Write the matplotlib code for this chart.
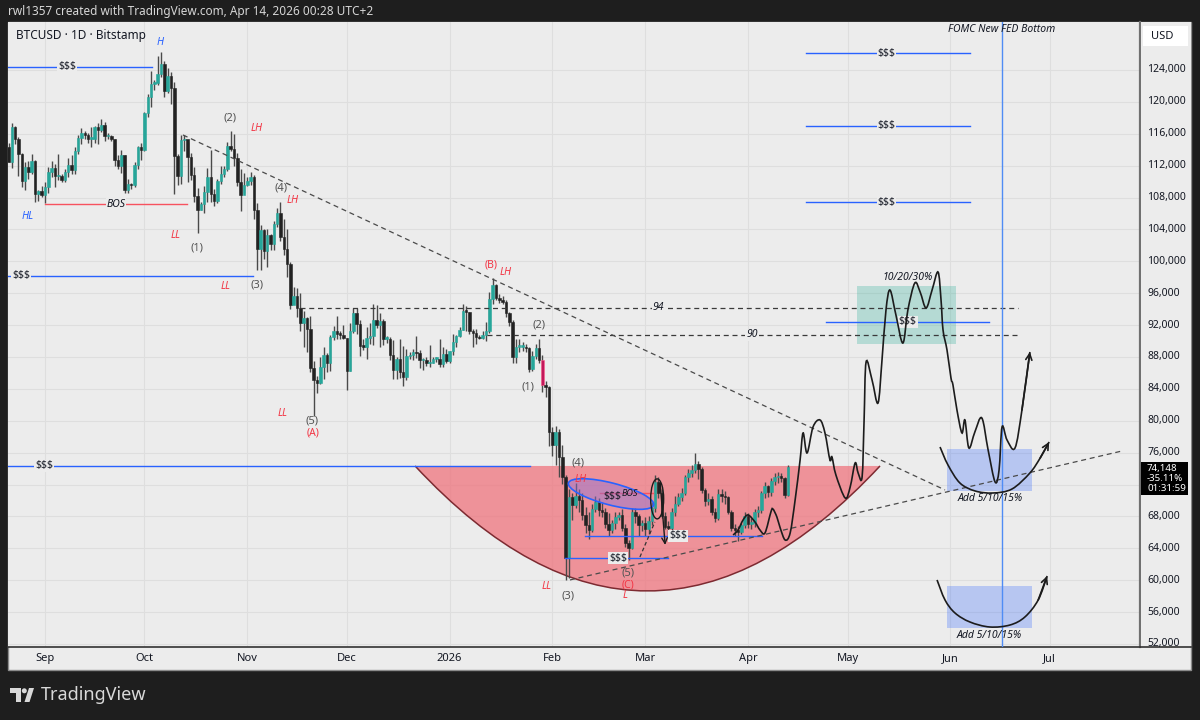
import numpy as np
import pandas as pd
import matplotlib
matplotlib.use("Agg")
import matplotlib.pyplot as plt
from matplotlib.path import Path
from matplotlib.patches import PathPatch, Rectangle, Ellipse, Polygon
from matplotlib.transforms import blended_transform_factory, IdentityTransform

plt.rcParams["font.family"] = ["Noto Sans", "DejaVu Sans"]

# ---- daily BTCUSD candles (Bitstamp), prices in thousands of USD ----
first_day = "2025-08-21"
opens = [
    114.3, 112.5, 116.9, 115.4, 113.5, 110.1, 111.8, 111.2, 112.6, 108.4, 108.8,
    108.3, 109.3, 111.2, 111.7, 110.7, 110.7, 110.2, 111.2, 112.1, 111.5, 113.9, 115.5, 116.1, 115.9, 115.4,
    115.4, 116.8, 116.5, 117.1, 115.7, 115.7, 115.3, 112.7, 112.0, 113.3, 109.0, 109.7, 109.6, 112.1, 114.4,
    114.0, 118.6, 120.6, 122.3, 122.4, 123.5, 124.8, 121.4, 123.3, 121.7, 113.2, 110.7, 115.2, 115.3, 113.1,
    110.8, 108.2, 106.5, 107.2, 108.7, 110.6, 108.5, 107.6, 110.1, 111.0, 111.6, 114.5, 114.1, 112.9, 110.0, 108.3,
    109.6, 110.1, 110.6, 106.5, 101.5, 103.9, 101.3, 103.3, 102.2, 104.7, 106.0, 103.0, 101.6, 99.7, 94.5,
    95.6, 94.2, 92.2, 92.9, 91.5, 86.6, 85.1, 84.7, 86.8, 88.3, 87.3, 90.5, 91.3, 90.9, 90.8,
    90.4, 86.3, 91.3, 93.5, 92.1, 89.4, 89.3, 90.4, 90.6, 92.7, 92.0, 92.5, 90.3, 90.3, 88.2, 86.4,
    87.8, 86.1, 85.5, 88.1, 88.3, 88.6, 88.5, 87.6, 87.6, 87.2, 87.3, 87.8, 87.8, 87.1, 88.4,
    87.5, 88.7, 89.9, 90.6, 91.4, 93.8, 93.7, 91.3, 91.0, 90.5, 90.4, 90.8, 91.2, 95.3, 97.0, 95.4,
    95.2, 94.9, 93.5, 92.4, 88.0, 89.3, 89.3, 89.3, 89.1, 86.5, 88.1, 89.1, 87.6, 84.5, 84.2,
    78.6, 77.0, 78.6, 75.5, 73.0, 62.8, 70.4, 69.4, 70.6, 70.0, 68.2, 66.9, 66.3, 68.9,
    69.8, 68.8, 68.6, 67.0, 66.3, 67.2, 67.9, 68.2, 66.5, 64.7, 64.0, 68.6, 68.0, 66.9,
    67.2, 66.4, 67.4, 69.0, 72.3, 71.0, 68.1, 66.7, 66.6, 68.5, 69.6, 70.4, 71.0, 72.9, 73.5, 73.8,
    74.6, 73.9, 71.3, 69.9, 70.2, 68.6, 67.8, 70.8, 70.6, 70.4, 68.6, 66.5, 66.3, 66.0, 66.9,
    68.0, 67.1, 67.2, 68.6, 68.8, 70.9, 71.8, 71.1, 72.4, 72.9, 73.1, 72.8, 70.7,
]
highs = [
    114.8, 117.4, 117.0, 115.6, 113.6, 112.4, 112.6, 113.5, 112.7, 108.9, 109.4,
    109.9, 111.8, 112.6, 112.2, 113.4, 111.0, 111.6, 112.9, 113.3, 114.3, 115.9, 116.7, 116.3, 116.1, 116.8,
    117.0, 117.3, 117.9, 117.5, 116.1, 115.8, 115.4, 113.3, 114.0, 113.3, 110.3, 109.8, 112.4, 114.5, 114.8,
    118.7, 121.0, 123.9, 122.8, 125.7, 126.2, 125.1, 124.2, 123.7, 122.5, 113.4, 115.9, 115.9, 115.0, 113.6,
    111.8, 109.2, 107.5, 109.4, 111.7, 114.0, 109.1, 110.3, 112.0, 111.9, 115.0, 116.4, 116.0, 113.6, 111.6, 111.1,
    110.6, 111.2, 110.8, 107.3, 104.5, 104.0, 104.0, 103.4, 105.0, 106.7, 107.4, 105.3, 104.1, 99.9, 96.8,
    96.6, 96.0, 93.8, 93.0, 93.2, 87.5, 85.6, 88.0, 89.2, 88.5, 90.7, 91.9, 93.1, 91.2, 92.0,
    90.4, 92.3, 94.1, 94.1, 92.7, 90.3, 91.8, 92.3, 94.6, 94.5, 93.5, 92.8, 90.6, 90.5, 90.1, 88.0,
    90.3, 89.4, 89.0, 88.6, 89.0, 90.6, 88.9, 87.9, 88.0, 89.5, 88.0, 88.0, 90.3, 89.3, 89.0,
    88.8, 90.9, 90.7, 91.8, 94.7, 94.4, 93.6, 91.5, 91.5, 90.7, 91.2, 92.4, 96.2, 97.9, 97.1, 95.9,
    95.6, 95.2, 93.6, 92.6, 90.2, 90.3, 89.9, 89.6, 89.3, 88.8, 89.6, 90.3, 88.2, 85.0, 84.3,
    79.2, 79.3, 79.0, 76.9, 73.2, 71.5, 71.0, 72.2, 71.5, 70.9, 69.2, 68.5, 69.5, 70.6,
    70.3, 69.8, 69.0, 68.4, 67.6, 68.5, 68.6, 68.9, 67.0, 65.0, 69.1, 69.0, 68.3, 67.6,
    67.9, 68.0, 69.8, 73.2, 73.0, 71.4, 68.5, 67.4, 69.0, 70.5, 71.0, 71.6, 73.2, 74.0, 74.4, 75.9,
    75.0, 74.2, 71.6, 70.9, 70.5, 69.0, 71.5, 71.4, 71.2, 70.6, 68.8, 67.0, 66.8, 67.2, 68.5,
    68.4, 67.8, 68.9, 69.3, 71.2, 72.3, 72.0, 72.8, 73.5, 73.6, 73.4, 72.9, 74.5,
]
lows = [
    112.4, 111.7, 114.7, 110.7, 109.3, 109.0, 110.3, 110.9, 107.4, 107.6, 108.1,
    107.3, 108.6, 110.6, 109.3, 110.2, 109.9, 110.0, 110.6, 110.9, 110.9, 113.4, 114.7, 115.4, 114.8, 114.4,
    114.8, 114.7, 116.2, 115.1, 115.4, 115.1, 112.0, 111.6, 111.1, 108.6, 108.6, 109.1, 109.3, 111.6, 112.7,
    113.9, 118.1, 119.3, 121.5, 122.1, 123.1, 120.6, 121.1, 119.7, 108.5, 109.6, 109.7, 113.9, 110.0, 110.2,
    107.5, 103.5, 106.4, 106.1, 107.5, 107.5, 106.9, 107.3, 109.7, 110.6, 111.3, 113.9, 112.0, 109.5, 106.3, 108.6,
    109.4, 109.6, 105.3, 98.9, 98.9, 100.3, 99.3, 101.4, 101.4, 104.3, 102.5, 100.8, 98.0, 94.0, 94.6,
    93.0, 91.2, 89.3, 88.6, 86.1, 80.6, 83.5, 84.6, 85.3, 86.1, 86.3, 90.1, 90.2, 90.3, 90.3,
    83.9, 86.2, 91.0, 90.9, 88.1, 88.9, 87.7, 89.6, 89.5, 91.6, 89.3, 89.5, 89.8, 87.6, 85.2, 85.3,
    85.4, 84.4, 85.1, 87.8, 87.6, 87.9, 86.6, 86.4, 86.9, 86.7, 87.2, 87.4, 86.7, 86.8, 87.2,
    87.3, 88.3, 89.3, 90.5, 91.4, 91.3, 90.9, 89.3, 89.6, 90.2, 90.2, 90.0, 91.0, 94.6, 95.1, 94.8,
    94.6, 93.0, 91.9, 87.3, 87.3, 88.6, 88.7, 88.6, 86.1, 86.2, 87.7, 87.3, 83.6, 83.0, 76.8,
    75.6, 74.5, 72.9, 72.1, 60.0, 60.3, 67.5, 69.0, 68.5, 67.6, 65.9, 65.2, 66.0, 68.5,
    68.0, 67.9, 66.6, 65.6, 65.9, 66.4, 67.6, 66.2, 64.2, 62.5, 63.9, 67.2, 65.5, 66.2,
    65.6, 65.8, 66.9, 68.5, 70.3, 67.8, 66.4, 65.4, 66.2, 68.1, 69.3, 69.9, 70.7, 72.3, 72.9, 73.4,
    72.7, 71.0, 69.3, 69.4, 68.2, 67.3, 67.5, 69.8, 69.6, 68.3, 66.2, 65.6, 64.9, 65.8, 66.6,
    66.6, 66.4, 66.7, 67.9, 68.4, 70.3, 70.4, 70.6, 72.0, 72.2, 72.3, 70.3, 70.5,
]
closes = [
    112.5, 116.9, 115.4, 113.5, 110.1, 111.8, 111.2, 112.6, 108.4, 108.8, 108.3,
    109.3, 111.2, 111.7, 110.7, 110.7, 110.2, 111.2, 112.1, 111.5, 113.9, 115.5, 116.1, 115.9, 115.4, 115.4,
    116.8, 116.5, 117.1, 115.7, 115.7, 115.3, 112.7, 112.0, 113.3, 109.0, 109.7, 109.6, 112.1, 114.4, 114.0,
    118.6, 120.6, 122.3, 122.4, 123.5, 124.8, 121.4, 123.3, 121.7, 113.2, 110.7, 115.2, 115.3, 113.1, 110.8,
    108.2, 106.5, 107.2, 108.7, 110.6, 108.5, 107.6, 110.1, 111.0, 111.6, 114.5, 114.1, 112.9, 110.0, 108.3, 109.6,
    110.1, 110.6, 106.5, 101.5, 103.9, 101.3, 103.3, 102.2, 104.7, 106.0, 103.0, 101.6, 99.7, 94.5, 95.6,
    94.2, 92.2, 92.9, 91.5, 86.6, 85.1, 84.7, 86.8, 88.3, 87.3, 90.5, 91.3, 90.9, 90.8, 90.4,
    86.3, 91.3, 93.5, 92.1, 89.4, 89.3, 90.4, 90.6, 92.7, 92.0, 92.5, 90.3, 90.3, 88.2, 86.4, 87.8,
    86.1, 85.5, 88.1, 88.3, 88.6, 88.5, 87.6, 87.6, 87.2, 87.3, 87.8, 87.8, 87.1, 88.4, 87.5,
    88.7, 89.9, 90.6, 91.4, 93.8, 93.7, 91.3, 91.0, 90.5, 90.4, 90.8, 91.2, 95.3, 97.0, 95.4, 95.2,
    94.9, 93.5, 92.4, 88.0, 89.3, 89.3, 89.3, 89.1, 86.5, 88.1, 89.1, 87.6, 84.5, 84.2, 78.6,
    77.0, 78.6, 75.5, 73.0, 62.8, 70.4, 69.4, 70.6, 70.0, 68.2, 66.9, 66.3, 68.9, 69.8,
    68.8, 68.6, 67.0, 66.3, 67.2, 67.9, 68.2, 66.5, 64.7, 64.0, 68.6, 68.0, 66.9, 67.2,
    66.4, 67.4, 69.0, 72.3, 71.0, 68.1, 66.7, 66.6, 68.5, 69.6, 70.4, 71.0, 72.9, 73.5, 73.8, 74.6,
    73.9, 71.3, 69.9, 70.2, 68.6, 67.8, 70.8, 70.6, 70.4, 68.6, 66.5, 66.3, 66.0, 66.9, 68.0,
    67.1, 67.2, 68.6, 68.8, 70.9, 71.8, 71.1, 72.4, 72.9, 73.1, 72.8, 70.7, 74.148,
]
marked_day = "2026-01-29"

# ---- axes ----
origin = pd.Timestamp("2025-09-01")
month_ticks = ["2025-09-01", "2025-10-01", "2025-11-01", "2025-12-01", "2026-01-01", "2026-02-01",
               "2026-03-01", "2026-04-01", "2026-05-01", "2026-06-01", "2026-07-01"]
month_labels = ["Sep", "Oct", "Nov", "Dec", "2026", "Feb", "Mar", "Apr", "May", "Jun", "Jul"]
price_ticks = list(range(52, 125, 4))
last_price = 74.148
last_change = "-35.11%"
countdown = "01:31:59"

# ---- drawings (x = days since 2025-09-01, y = price in thousands) ----
liq_price = [124.38, 98.16, 74.33, 62.78, 65.55, 92.39, 126.13, 116.98, 107.44]
liq_start = [-11.2, -11.2, -11.2, 156.8, 162.8, 235.5, 229.5, 229.5, 229.5]
liq_end = [32.3, 62.7, 146.3, 187.9, 216.2, 284.7, 279.0, 279.0, 279.0]
liq_label = [6.6, -7.2, -0.3, 172.8, 190.9, 260.2, 253.8, 253.8, 253.8]

level_text = ["94", "90"]
level_price = [94.15, 90.76]
level_start = [76.9, 133.3]
level_end = [293.4, 294.0]
level_label = [184.9, 213.2]

trend_days = [(41.6, 271.4), (158.3, 324.8)]
trend_prices = [(115.85, 71.32), (60.03, 76.21)]

count_text = ["(1)", "(2)", "(3)", "(4)", "(5)", "(1)", "(2)", "(3)", "(4)", "(5)"]
count_day = [45.8, 55.8, 63.9, 71.2, 80.5, 145.7, 149.0, 157.7, 160.7, 175.8]
count_price = [101.67, 117.98, 97.03, 109.20, 79.97, 84.24, 92.01, 58.02, 74.70, 60.85]

swing_text = ["LL", "LH", "LH", "LL", "LL", "LH", "LH", "LL", "L"]
swing_day = [39.5, 63.9, 74.8, 54.6, 71.5, 139.0, 161.6, 151.4, 174.9]
swing_price = [103.18, 116.60, 107.69, 96.78, 80.97, 98.54, 72.57, 59.27, 58.10]

abc_text = ["(A)", "(B)", "(C)"]
abc_day = [80.8, 134.5, 175.8]
abc_price = [78.47, 99.54, 59.45]

blue_text = ["H", "HL"]
blue_day = [34.7, -5.1]
blue_price = [127.39, 105.56]

bos_price = 107.18
bos_span = (0.0, 42.8)
bos_label = 21.4

cup_days = (111.6, 251.8)
cup_top = 74.33
cup_bottom = 58.65

zone_days = [(244.9, 274.7), (272.0, 297.6), (272.0, 297.6)]
zone_prices = [(89.63, 96.90), (71.19, 76.46), (54.00, 59.27)]
zone_colors = ["#22ab94", "#2962ff", "#2962ff"]
zone_text = ["10/20/30%", "Add 5/10/15%", "Add 5/10/15%"]
zone_text_pos = [(260.0, 98.03), (285.0, 70.31), (284.7, 53.00)]

fomc_day = 288.6

path_days = [207.5, 209.0, 210.5, 212.0, 214.1, 215.6, 217.1, 218.9, 219.5, 220.7, 221.7, 223.2, 224.7,
             226.2, 227.7, 228.6, 229.8, 231.6, 233.7, 235.2, 236.7, 237.3, 238.5, 241.3, 242.8, 244.3,
             245.2, 246.4, 247.0, 247.6, 249.4, 251.2, 252.4, 253.6, 254.8, 256.6, 258.7, 260.2, 262.3,
             263.9, 265.7, 267.5, 269.3, 270.2, 270.8, 272.0, 273.2, 273.8, 275.0, 276.5, 277.4, 278.6,
             280.4, 282.5, 284.4, 286.5, 287.7, 288.6, 290.1, 292.5, 294.6, 297.0]
path_prices = [65.67, 66.30, 67.55, 68.18, 67.30, 66.30, 65.92, 68.56, 68.93, 67.93, 66.55, 65.04, 65.92,
               70.06, 75.08, 78.47, 75.96, 79.22, 80.10, 78.47, 75.08, 75.46, 73.20, 70.31, 71.69, 74.70,
               73.45, 72.95, 80.10, 87.37, 85.11, 82.23, 87.62, 93.89, 96.40, 93.27, 89.75, 93.89, 97.28,
               96.15, 94.15, 96.40, 98.66, 95.15, 91.39, 88.88, 85.36, 84.49, 81.35, 78.47, 80.10, 76.58,
               78.59, 80.35, 76.33, 72.32, 73.82, 79.22, 77.59, 76.58, 81.35, 88.63]

arc1_days = [269.9, 272.3, 275.9, 280.5, 285.9, 291.6, 297.0, 300.1, 302.8]
arc1_prices = [76.71, 74.45, 72.19, 71.19, 70.94, 71.44, 73.45, 75.33, 77.34]
arc2_days = [269.0, 271.4, 274.4, 278.9, 284.9, 291.0, 295.5, 299.5, 302.2]
arc2_prices = [60.03, 57.52, 55.89, 54.76, 54.13, 54.38, 55.39, 57.52, 60.53]

BG = "#ececec"
DARK = "#1e1e1e"
RED = "#f23645"
BLUE = "#2962ff"
INK = "#131722"


def smooth_path(xs, ys):
    # catmull-rom through the points, drawn as cubic bezier segments
    pts = np.column_stack([xs, ys]).astype(float)
    verts = [pts[0]]
    codes = [Path.MOVETO]
    for i in range(len(pts) - 1):
        p0 = pts[i - 1] if i > 0 else pts[i]
        p1, p2 = pts[i], pts[i + 1]
        p3 = pts[i + 2] if i + 2 < len(pts) else pts[i + 1]
        verts += [p1 + (p2 - p0) / 6, p2 - (p3 - p1) / 6, p2]
        codes += [Path.CURVE4] * 3
    return Path(verts, codes)


def arrow_tip(ax, xs, ys):
    ax.annotate("", xy=(xs[-1], ys[-1]), xytext=(xs[-2], ys[-2]),
                arrowprops=dict(arrowstyle="->", color="#1c1c1c", lw=1.2,
                                shrinkA=0, shrinkB=0, mutation_scale=11), zorder=7)


fig = plt.figure(figsize=(12, 7.2), dpi=100, facecolor=DARK)
fig.patches.append(Rectangle((8 / 1200, 50 / 720), 1183 / 1200, 648 / 720, transform=fig.transFigure,
                             facecolor=BG, edgecolor="#8c8c8c", lw=1, zorder=-5))

ax = fig.add_axes([8 / 1200, 73 / 720, 1132 / 1200, 625 / 720], facecolor=BG)
ax.set_xlim(-11.16, 330.2)
ax.set_ylim(51.62, 130.02)

tick_days = [(pd.Timestamp(t) - origin).days for t in month_ticks]
ax.set_xticks(tick_days)
ax.set_xticklabels(month_labels)
ax.get_xticklabels()[4].set_fontweight("bold")
ax.set_yticks(price_ticks)
ax.tick_params(axis="y", left=False, labelleft=False)
ax.tick_params(axis="x", length=0, pad=4.5, labelsize=8, labelcolor=INK)
ax.grid(color="#dedede", lw=0.8)
ax.set_axisbelow(True)
for side in ["top", "left"]:
    ax.spines[side].set_visible(False)
ax.spines["bottom"].set_color("#333333")
ax.spines["bottom"].set_linewidth(1.2)
ax.spines["right"].set_color("#707070")
ax.spines["right"].set_linewidth(1.6)

# candles
dates = pd.date_range(first_day, periods=len(closes), freq="D")
days = (dates - origin).days.values
o, h, l, c = (np.array(v) for v in (opens, highs, lows, closes))
body_col = np.where(c >= o, "#26a69a", "#222222").astype(object)
edge_col = body_col.copy()
mark = (dates == pd.Timestamp(marked_day))
body_col[mark] = "#c2185b"
edge_col[mark] = "#ff5c8a"
ax.vlines(days, l, h, color="#4a4a4a", lw=1.0, zorder=3)
ax.bar(days, np.maximum(np.abs(c - o), 0.15), bottom=np.minimum(o, c), width=0.76,
       color=list(body_col), edgecolor=list(edge_col), linewidth=0.4, zorder=4)

# rounded bottom (cup)
x0, x1 = cup_days
xm = (x0 + x1) / 2
ctrl = 2 * cup_bottom - cup_top
cup = Path([(x0, cup_top), (xm, ctrl), (x1, cup_top), (x0, cup_top)],
           [Path.MOVETO, Path.CURVE3, Path.CURVE3, Path.CLOSEPOLY])
ax.add_patch(PathPatch(cup, facecolor="#ef6f79", alpha=0.72, edgecolor="none", zorder=1.5))
rim = Path([(x0, cup_top), (xm, ctrl), (x1, cup_top)], [Path.MOVETO, Path.CURVE3, Path.CURVE3])
ax.add_patch(PathPatch(rim, fill=False, edgecolor="#7d2a31", lw=1.1, zorder=1.6))

# zones
for (za, zb), (pa, pb), col in zip(zone_days, zone_prices, zone_colors):
    ax.add_patch(Rectangle((za, pa), zb - za, pb - pa, facecolor=col, alpha=0.27,
                           edgecolor="none", zorder=2))
for txt, (tx, ty) in zip(zone_text, zone_text_pos):
    ax.text(tx, ty, txt, ha="center", va="center", fontsize=7.5, style="italic", color=INK, zorder=8)

# liquidity lines
for pr, xa, xb, xl in zip(liq_price, liq_start, liq_end, liq_label):
    ax.plot([xa, xb], [pr, pr], color=BLUE, lw=1, zorder=5)
    ax.text(xl, pr, "$$$", ha="center", va="center", fontsize=7.5, color=INK, zorder=6,
            bbox=dict(facecolor=BG, edgecolor="none", pad=0.6))
ax.plot(list(bos_span), [bos_price, bos_price], color="#f7525f", lw=1, zorder=5)
ax.text(bos_label, bos_price, "BOS", ha="center", va="center", fontsize=7.5, style="italic",
        color=INK, zorder=6, bbox=dict(facecolor=BG, edgecolor="none", pad=0.6))

# dashed levels and trend lines
for txt, pr, xa, xb, xl in zip(level_text, level_price, level_start, level_end, level_label):
    ax.plot([xa, xb], [pr, pr], color="#3a3a3a", lw=0.9, ls=(0, (4, 3)), zorder=5)
    ax.text(xl, pr, txt, ha="center", va="center", fontsize=7.5, style="italic", color=INK, zorder=6,
            bbox=dict(facecolor=BG, edgecolor="none", pad=0.6))
for td, tp in zip(trend_days, trend_prices):
    ax.plot(td, tp, color="#4a4a4a", lw=0.9, ls=(0, (4, 3)), zorder=5)

# FOMC marker
ax.axvline(fomc_day, color="#4f8cf5", lw=1, zorder=5)
ax.text(fomc_day, 129.02, "FOMC New FED Bottom", ha="center", va="center", fontsize=7.5,
        style="italic", color=INK, zorder=8)

# BOS circle inside the range
cx, cy = ax.transData.transform((170.7, 70.81))
ax.add_patch(Ellipse((cx, cy), 88, 22, angle=-14.5, transform=IdentityTransform(),
                     facecolor=(0.55, 0.45, 0.85, 0.45), edgecolor=BLUE, lw=1.2, zorder=6))
ax.plot([167.4, 183.4], [70.94, 70.94], color="#f7525f", lw=1, zorder=5.5)
ax.text(171.0, 70.56, "$$$", ha="center", va="center", fontsize=7.5, color=INK, zorder=7)
ax.text(176.2, 70.85, "BOS", ha="center", va="center", fontsize=6.5, style="italic", color=INK, zorder=7)
lx, ly = ax.transData.transform((184.6, 70.2))
ax.add_patch(Ellipse((lx, ly), 13, 40, transform=IdentityTransform(), fill=False,
                     edgecolor="#1c1c1c", lw=1, zorder=7))
ax.annotate("", xy=(187.0, 64.42), xytext=(185.5, 72.19),
            arrowprops=dict(arrowstyle="->", color="#1c1c1c", lw=1, shrinkA=0, shrinkB=0), zorder=7)
ax.plot([179.4, 183.9], [62.91, 67.30], color="#333333", lw=0.9, ls=(0, (3, 2)), zorder=6)

# hand drawn projection
ax.add_patch(PathPatch(smooth_path(path_days, path_prices), fill=False, edgecolor="#1c1c1c",
                       lw=1.2, zorder=7))
arrow_tip(ax, path_days, path_prices)
for ad, ap in [(arc1_days, arc1_prices), (arc2_days, arc2_prices)]:
    ax.add_patch(PathPatch(smooth_path(ad, ap), fill=False, edgecolor="#1c1c1c", lw=1.2, zorder=7))
    arrow_tip(ax, ad, ap)

# structure labels
for txt, xd, yp in zip(count_text, count_day, count_price):
    ax.text(xd, yp, txt, ha="center", va="center", fontsize=8, color="#555555",
            fontweight="medium", zorder=8)
for txt, xd, yp in zip(swing_text, swing_day, swing_price):
    ax.text(xd, yp, txt, ha="center", va="center", fontsize=7.5, color=RED, style="italic",
            fontweight="bold", zorder=8)
for txt, xd, yp in zip(abc_text, abc_day, abc_price):
    ax.text(xd, yp, txt, ha="center", va="center", fontsize=7.5, color=RED, zorder=8)
for txt, xd, yp in zip(blue_text, blue_day, blue_price):
    ax.text(xd, yp, txt, ha="center", va="center", fontsize=7.5, color=BLUE, style="italic",
            fontweight="bold", zorder=8)

ax.text(0.007, 0.978, "BTCUSD · 1D · Bitstamp", transform=ax.transAxes, ha="left", va="center",
        fontsize=8.5, color=INK, zorder=9)

# price scale
ax2 = fig.add_axes([1141 / 1200, 73 / 720, 50 / 1200, 625 / 720], facecolor=BG)
ax2.set_ylim(ax.get_ylim())
ax2.set_xlim(0, 1)
ax2.set_xticks([])
ax2.set_yticks([])
for side in ["top", "left", "right"]:
    ax2.spines[side].set_visible(False)
ax2.spines["bottom"].set_color("#333333")
ax2.spines["bottom"].set_linewidth(1.2)
bt = blended_transform_factory(ax2.transAxes, ax2.transData)
box_lo, box_hi = 70.69, 74.87
for v in price_ticks:
    if box_lo - 0.8 < v < box_hi + 0.8:
        continue  # hidden behind the last-price tag
    ax2.text(0.12, v, f"{v * 1000:,}", transform=bt, ha="left", va="center", fontsize=7.5, color=INK)
ax2.add_patch(Rectangle((0.0, box_lo), 0.94, box_hi - box_lo, transform=bt, facecolor="black", zorder=5))
for txt, yp in zip([f"{last_price * 1000:,.0f}", last_change, countdown], [74.05, 72.78, 71.45]):
    ax2.text(0.12, yp, txt, transform=bt, ha="left", va="center", fontsize=7, color="white", zorder=6)
ax2.add_patch(Rectangle((0.04, 127.0), 0.9, 2.5, transform=bt, facecolor="white", edgecolor="none", zorder=5))
ax2.text(0.2, 128.25, "USD", transform=bt, ha="left", va="center", fontsize=8, color=INK, zorder=6)

# header and footer
fig.text(8 / 1200, 1 - 11 / 720, "rwl1357 created with TradingView.com, Apr 14, 2026 00:28 UTC+2",
         ha="left", va="center", fontsize=8.5, color="#d6d6d6")


def fpx(x, y):
    return (x / 1200, 1 - y / 720)


fig.patches.append(Polygon([fpx(10, 688), fpx(21, 688), fpx(21, 702), fpx(16.3, 702), fpx(16.3, 693),
                            fpx(10, 693)], closed=True, transform=fig.transFigure, facecolor="#d9d9d9"))
fig.patches.append(Ellipse(fpx(24.3, 690.8), 5 / 1200, 5 / 720, transform=fig.transFigure,
                           facecolor="#d9d9d9"))
fig.patches.append(Polygon([fpx(29, 688), fpx(34, 688), fpx(29.5, 702), fpx(24.5, 702)], closed=True,
                           transform=fig.transFigure, facecolor="#d9d9d9"))
fig.text(41 / 1200, 1 - 695 / 720, "TradingView", ha="left", va="center", fontsize=13,
         fontweight="bold", color="#d9d9d9")

plt.savefig("out.png", dpi=100, facecolor=fig.get_facecolor())
plt.close()
